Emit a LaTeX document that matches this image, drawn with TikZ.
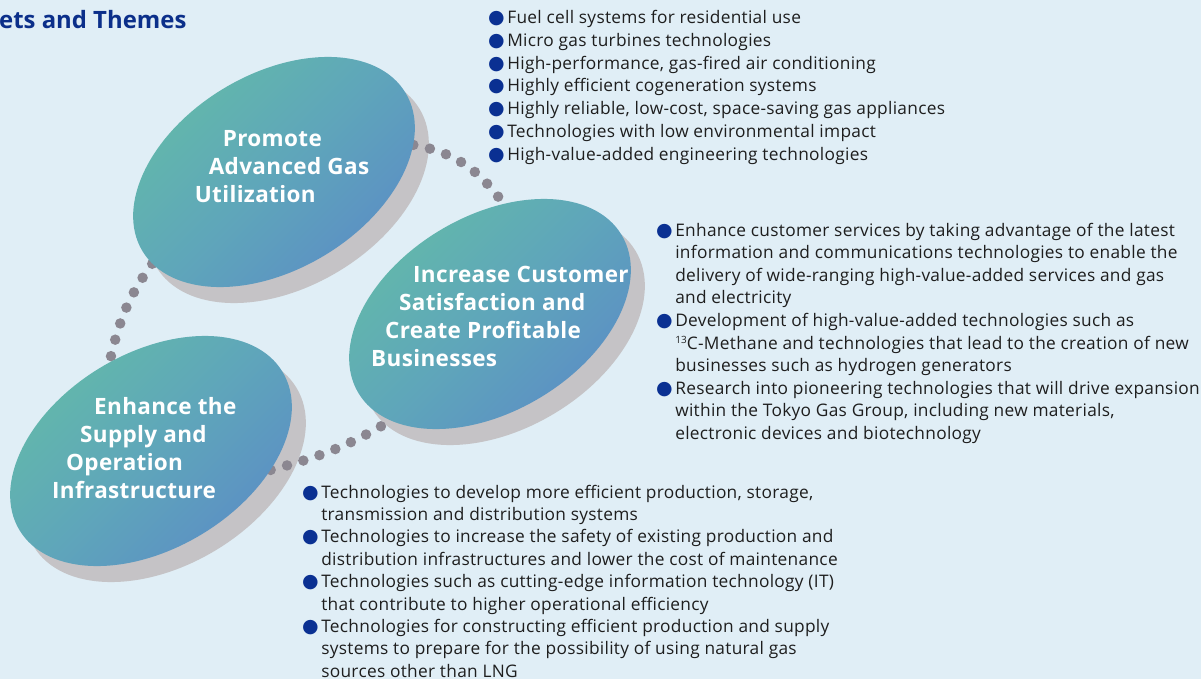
\documentclass[tikz,border=0pt]{standalone}
\usepackage{fontspec}
\setmainfont{Open Sans}
\newfontfamily\symfont{DejaVu Sans}
\usetikzlibrary{shapes.geometric}

\definecolor{bgblue}{HTML}{E0EEF6}
\definecolor{titleblue}{HTML}{0B2F8A}
\definecolor{bulletblue}{HTML}{0A3092}
\definecolor{dotgray}{HTML}{8B8791}
\definecolor{shadowgray}{HTML}{C5C3C6}
\definecolor{discteal}{HTML}{63BBA8}
\definecolor{discmid}{HTML}{5FA6BA}
\definecolor{discblue}{HTML}{5B8CC6}
\definecolor{bodytext}{HTML}{1E1E1E}

\pgfdeclarelayer{canvas}
\pgfdeclarelayer{undersides}
\pgfdeclarelayer{links}
\pgfsetlayers{canvas,undersides,links,main}

% list bullet
\newcommand{\bul}{{\color{bulletblue}\symfont\fontsize{19}{0}\selectfont ●}}
\newcommand{\supnum}[1]{\raisebox{6pt}{\fontsize{10}{10}\selectfont #1}}
% body face, slightly tracked
\newcommand{\listfont}[1]{\fontsize{17.3}{#1}\selectfont\addfontfeatures{LetterSpace=1.7}}

\tikzset{
  discshape/.style={ellipse, minimum width=307pt, minimum height=195pt,
    inner sep=0pt, rotate=31},
  disc/.style={discshape, top color=discteal, bottom color=discblue,
    middle color=discmid, shading angle=45},
  underside/.style={discshape, fill=shadowgray},
  link/.style={draw=dotgray, line width=10.5pt, line cap=round,
    dash pattern=on 0pt off 17pt},
  disctext/.style={anchor=base west, inner sep=0pt, text=white,
    font=\bfseries\fontsize{22.5}{26}\selectfont\addfontfeatures{LetterSpace=1.5}},
  bullets/.style={anchor=base west, inner sep=0pt, text=bodytext},
}

\begin{document}
\begin{tikzpicture}[x=1pt,y=1pt]
\begin{pgfonlayer}{canvas}
  \fill[bgblue] (0,0) rectangle (1201,-679);
\end{pgfonlayer}
\useasboundingbox (0,0) rectangle (1201,-679);

% heading
\node[anchor=base west, inner sep=0pt, text=titleblue,
  font=\bfseries\fontsize{23.9}{24}\selectfont] (title) at (-1,-29) {ets and Themes};

% the three theme discs
\node[disc] (promote) at (274,-172) {};
\node[disc] (customer) at (490,-314) {};
\node[disc] (supply) at (151,-451) {};

% thick grey undersides of the discs
\begin{pgfonlayer}{undersides}
  \node[underside] (promoteside) at (288,-188) {};
  \node[underside] (customerside) at (504,-330) {};
  \node[underside] (supplyside) at (165,-467) {};
\end{pgfonlayer}

% dotted links, above the undersides and beneath the discs
\begin{pgfonlayer}{links}
  \draw[link] (promote.-20) to[out=-10,in=126] (customer.52);
  \draw[link] (promote.186) to[out=234,in=77] (supply.84);
  \draw[link] (supply.-40) to[out=15,in=211] (customer.196);
\end{pgfonlayer}

% disc captions
\foreach \t [count=\i] in {Promote,Advanced Gas,Utilization}
  \node[disctext] (promotetext\i) at ({236.7-14*\i},{-118.7-28*\i}) {\t};
\foreach \t [count=\i] in {Increase Customer,Satisfaction and,Create Profitable,Businesses}
  \node[disctext] (customertext\i) at ({427-14*\i},{-254-28*\i}) {\t};
\foreach \t [count=\i] in {Enhance the,Supply and,Operation,Infrastructure}
  \node[disctext] (supplytext\i) at ({108-14*\i},{-386-28*\i}) {\t};

% theme lists
\node[bullets, font=\listfont{22.8}] (uselist) at (488,-23.5) {%
\begin{tabular}[t]{@{}l@{\hspace{2.5pt}}l@{}}
\bul & Fuel cell systems for residential use\\
\bul & Micro gas turbines technologies\\
\bul & High-performance, gas-fired air conditioning\\
\bul & Highly efficient cogeneration systems\\
\bul & Highly reliable, low-cost, space-saving gas appliances\\
\bul & Technologies with low environmental impact\\
\bul & High-value-added engineering technologies
\end{tabular}};

\node[bullets, font=\listfont{22.6}] (customerlist) at (656,-236) {%
\begin{tabular}[t]{@{}l@{\hspace{2.5pt}}l@{}}
\bul & Enhance customer services by taking advantage of the latest\\
 & information and communications technologies to enable the\\
 & delivery of wide-ranging high-value-added services and gas\\
 & and electricity\\
\bul & Development of high-value-added technologies such as\\
 & \supnum{13}C-Methane and technologies that lead to the creation of new\\
 & businesses such as hydrogen generators\\
\bul & Research into pioneering technologies that will drive expansion\\
 & within the Tokyo Gas Group, including new materials,\\
 & electronic devices and biotechnology
\end{tabular}};

\node[bullets, font=\listfont{22.4}] (supplylist) at (302,-498) {%
\begin{tabular}[t]{@{}l@{\hspace{2.5pt}}l@{}}
\bul & Technologies to develop more efficient production, storage,\\
 & transmission and distribution systems\\
\bul & Technologies to increase the safety of existing production and\\
 & distribution infrastructures and lower the cost of maintenance\\
\bul & Technologies such as cutting-edge information technology (IT)\\
 & that contribute to higher operational efficiency\\
\bul & Technologies for constructing efficient production and supply\\
 & systems to prepare for the possibility of using natural gas\\
 & sources other than LNG
\end{tabular}};
\end{tikzpicture}
\end{document}
